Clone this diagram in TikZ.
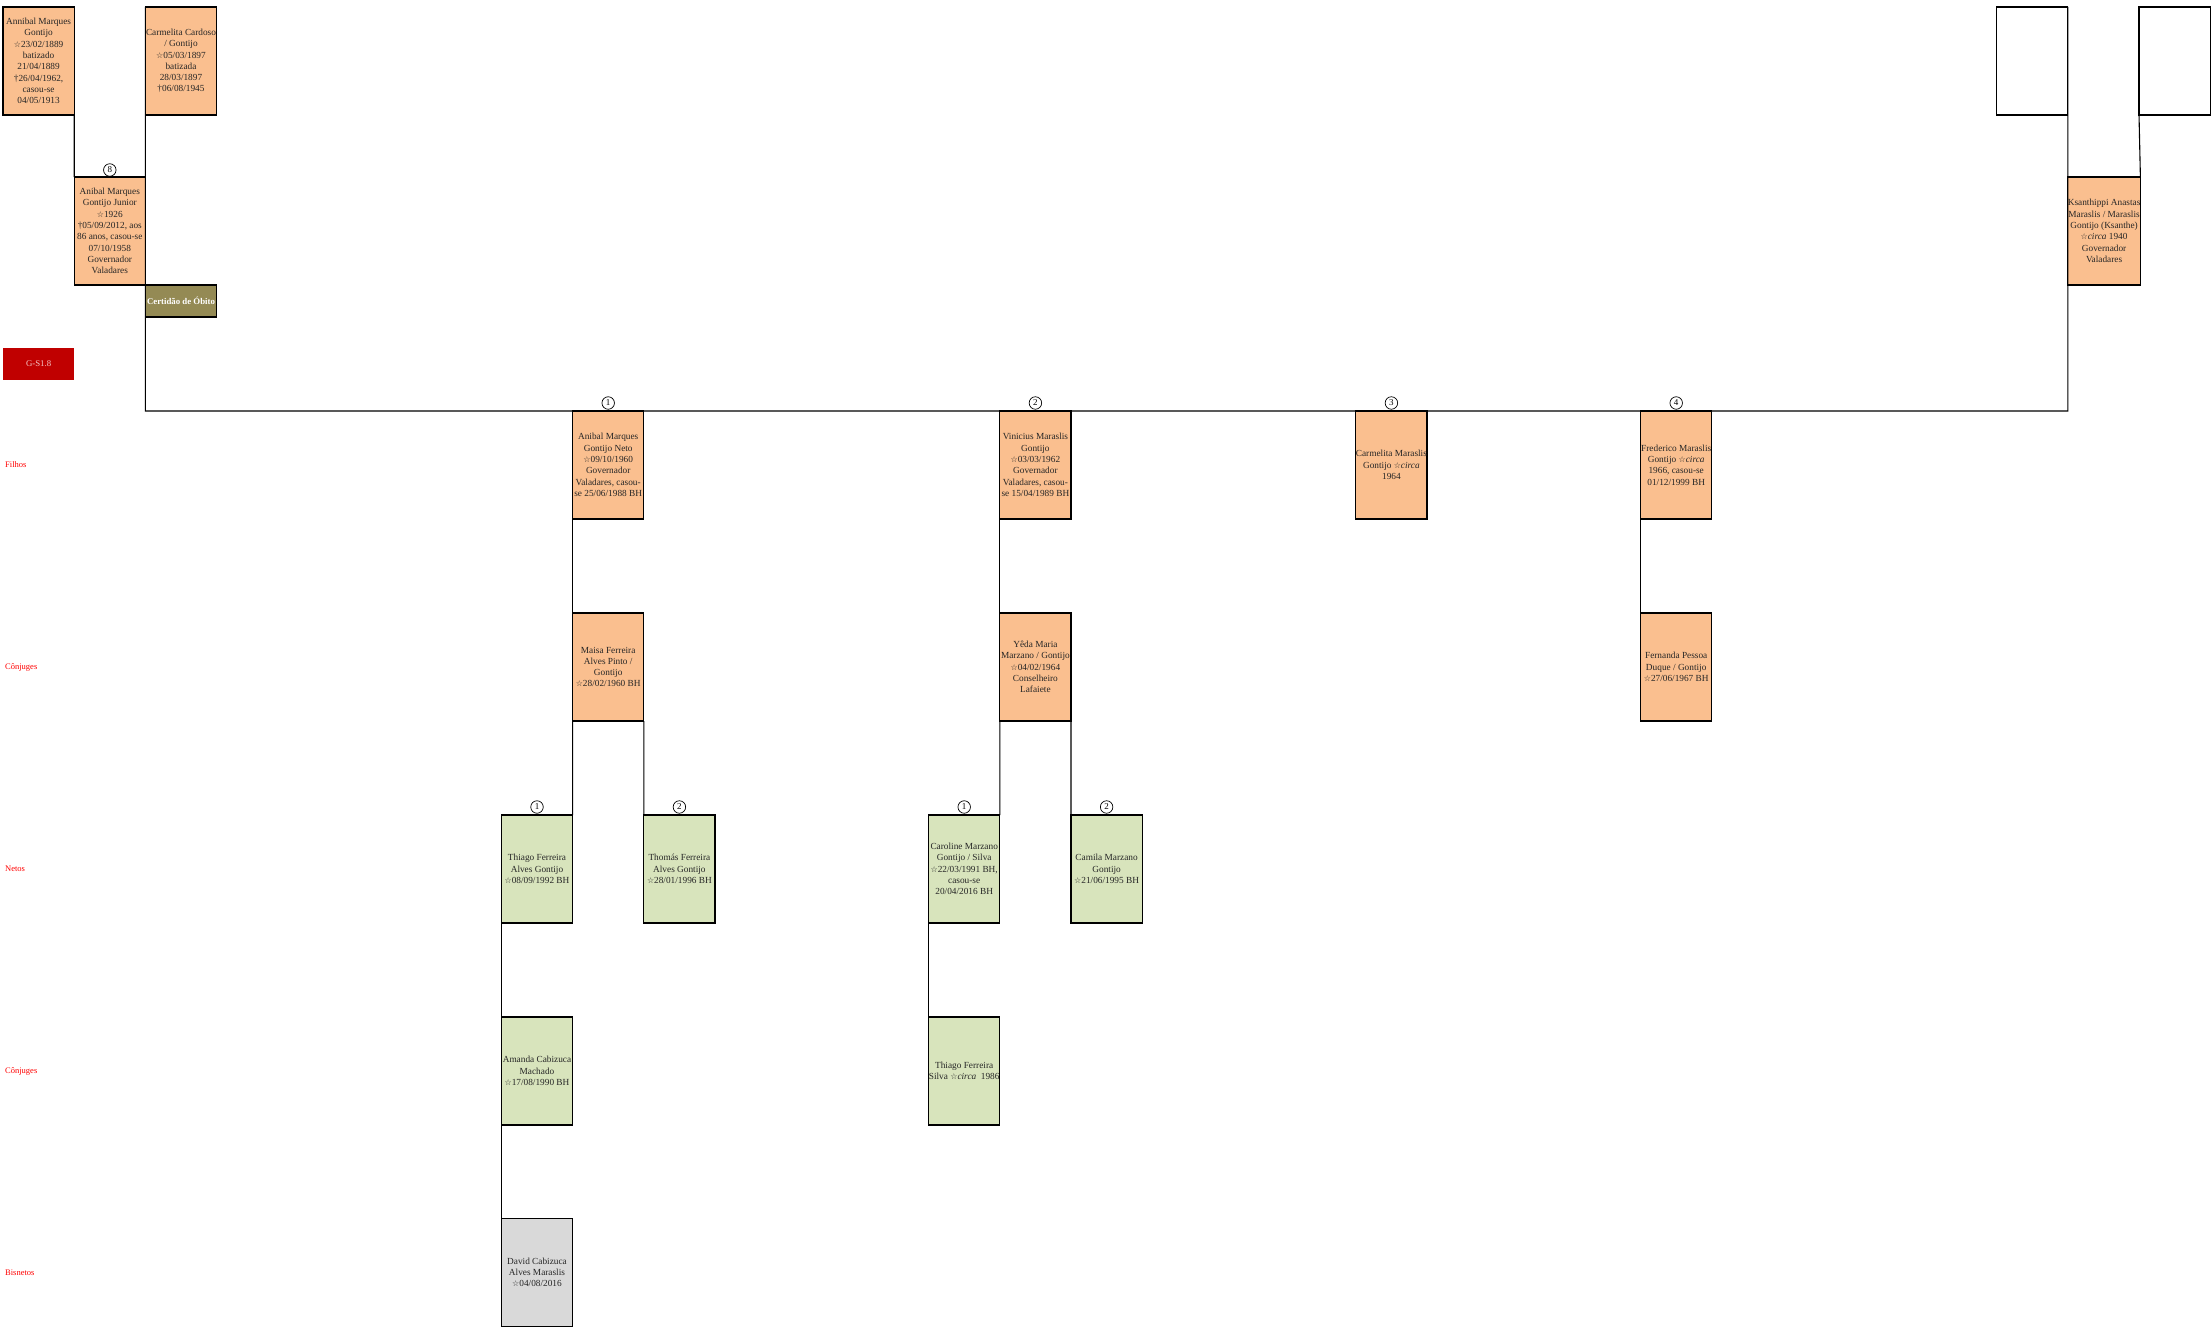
\documentclass[tikz,border=0pt]{standalone}
\usepackage{fontspec}
\setmainfont{Liberation Serif}
\newfontfamily\symfont{DejaVu Sans}
\definecolor{peach}{HTML}{FABF8F}
\definecolor{leaf}{HTML}{D8E4BC}
\definecolor{ash}{HTML}{D9D9D9}
\definecolor{olive}{HTML}{948A54}
\definecolor{darkred}{HTML}{C00000}
\definecolor{pinktxt}{HTML}{F4C7C7}
\definecolor{lblred}{HTML}{FF0000}
\definecolor{ink}{HTML}{262626}
\newcommand\nstar{{\symfont\fontsize{8}{11.3}\selectfont ☆}}
\tikzset{
  card/.style={draw, line width=1.1pt, minimum width=71.2pt, minimum height=108pt,
    inner sep=0pt, outer sep=0pt, align=center, anchor=north west, text=ink,
    font={\fontsize{9.3}{11.3}\selectfont}},
  anc/.style={card, fill=peach},
  kid/.style={card, fill=leaf},
  grey/.style={card, fill=ash},
  blank/.style={card, fill=white},
  num/.style={circle, draw, line width=0.7pt, inner sep=0pt, minimum size=12.5pt,
    font={\fontsize{9}{9}\selectfont}},
  lvl/.style={anchor=west, text=lblred, inner sep=0pt, font={\fontsize{8.5}{10}\selectfont}},
  conn/.style={line width=1.1pt}
}
\begin{document}
\begin{tikzpicture}[x=1pt,y=-1pt]
\useasboundingbox (0,0) rectangle (2211,1327);
% generation 1
\node[anc] (ann) at (3,7) {Annibal Marques\\Gontijo\\\nstar23/02/1889\\batizado\\21/04/1889\\†26/04/1962,\\casou-se\\04/05/1913};
\node[anc] (car) at (145.4,7) {Carmelita Cardoso\\/ Gontijo\\\nstar05/03/1897\\batizada\\28/03/1897\\†06/08/1945};
\node[blank] (e1) at (1996.6,7) {};
\node[blank] (e2) at (2139,7) {};
% generation 2
\node[anc] (jr) at (74.2,177) {Anibal Marques\\Gontijo Junior\\\nstar1926\\†05/09/2012, aos\\86 anos, casou-se\\07/10/1958\\Governador\\Valadares};
\node[anc] (ks) at (2067.8,177) {Ksanthippi Anastas\\Maraslis / Maraslis\\Gontijo (Ksanthe)\\\nstar\textit{circa} 1940\\Governador\\Valadares};
\node[card, fill=olive, minimum height=32pt, text=white, font={\bfseries\fontsize{8.8}{10}\selectfont}] (cert) at (145.4,285) {Certidão de Óbito};
\node[card, draw=none, fill=darkred, minimum height=32pt, text=pinktxt, font={\fontsize{8.8}{10}\selectfont}] (gs) at (3,348) {G-S1.8};
\node[num] (n8) at (109.8,170) {8};
% children
\node[anc] (neto) at (572.6,411) {Anibal Marques\\Gontijo Neto\\\nstar09/10/1960\\Governador\\Valadares, casou-\\se 25/06/1988 BH};
\node[anc] (vin) at (999.8,411) {Vinicius Maraslis\\Gontijo\\\nstar03/03/1962\\Governador\\Valadares, casou-\\se 15/04/1989 BH};
\node[anc] (cm) at (1355.8,411) {Carmelita Maraslis\\Gontijo \nstar\textit{circa}\\1964};
\node[anc] (fred) at (1640.6,411) {Frederico Maraslis\\Gontijo \nstar\textit{circa}\\1966, casou-se\\01/12/1999 BH};
\node[num] (n1a) at (608.2,403) {1};
\node[num] (n2a) at (1035.4,403) {2};
\node[num] (n3a) at (1391.4,403) {3};
\node[num] (n4a) at (1676.2,403) {4};
% spouses
\node[anc] (maisa) at (572.6,613) {Maisa Ferreira\\Alves Pinto /\\Gontijo\\\nstar28/02/1960 BH};
\node[anc] (yeda) at (999.8,613) {Yêda Maria\\Marzano / Gontijo\\\nstar04/02/1964\\Conselheiro\\Lafaiete};
\node[anc] (fern) at (1640.6,613) {Fernanda Pessoa\\Duque / Gontijo\\\nstar27/06/1967 BH};
% grandchildren
\node[kid] (thiago) at (501.4,815) {Thiago Ferreira\\Alves Gontijo\\\nstar08/09/1992 BH};
\node[kid] (thomas) at (643.8,815) {Thomás Ferreira\\Alves Gontijo\\\nstar28/01/1996 BH};
\node[kid] (carol) at (928.6,815) {Caroline Marzano\\Gontijo / Silva\\\nstar22/03/1991 BH,\\casou-se\\20/04/2016 BH};
\node[kid] (camila) at (1071,815) {Camila Marzano\\Gontijo\\\nstar21/06/1995 BH};
\node[num] (n1b) at (537,807) {1};
\node[num] (n2b) at (679.4,807) {2};
\node[num] (n1c) at (964.2,807) {1};
\node[num] (n2c) at (1106.6,807) {2};
% grandchildren spouses
\node[kid] (amanda) at (501.4,1017) {Amanda Cabizuca\\Machado\\\nstar17/08/1990 BH};
\node[kid] (ths) at (928.6,1017) {Thiago Ferreira\\Silva \nstar\textit{circa}\ \ 1986};
% great-grandchildren
\node[grey] (david) at (501.4,1218.5) {David Cabizuca\\Alves Maraslis\\\nstar04/08/2016};
% level labels
\node[lvl] (l1) at (5,465) {Filhos};
\node[lvl] (l2) at (5,667) {Cônjuges};
\node[lvl] (l3) at (5,869) {Netos};
\node[lvl] (l4) at (5,1071) {Cônjuges};
\node[lvl] (l5) at (5,1273) {Bisnetos};
% connectors
\coordinate (cl) at (145.4,411);
\coordinate (cr) at (2067.8,411);
\draw[conn] (ann.south east) -- (jr.north west);
\draw[conn] (car.north west) -- (cl) -- (cr) -- (e1.north east);
\draw[conn] (e2.south west) -- (ks.north east);
\draw[conn] (neto.south west) -- (maisa.north west);
\draw[conn] (maisa.south west) -- (thiago.north east);
\draw[conn] (maisa.south east) -- (thomas.north west);
\draw[conn] (thiago.south west) -- (amanda.north west);
\draw[conn] (amanda.south west) -- (david.north west);
\draw[conn] (vin.south west) -- (yeda.north west);
\draw[conn] (yeda.south west) -- (carol.north east);
\draw[conn] (yeda.south east) -- (camila.north west);
\draw[conn] (carol.south west) -- (ths.north west);
\draw[conn] (fred.south west) -- (fern.north west);
\end{tikzpicture}
\end{document}
